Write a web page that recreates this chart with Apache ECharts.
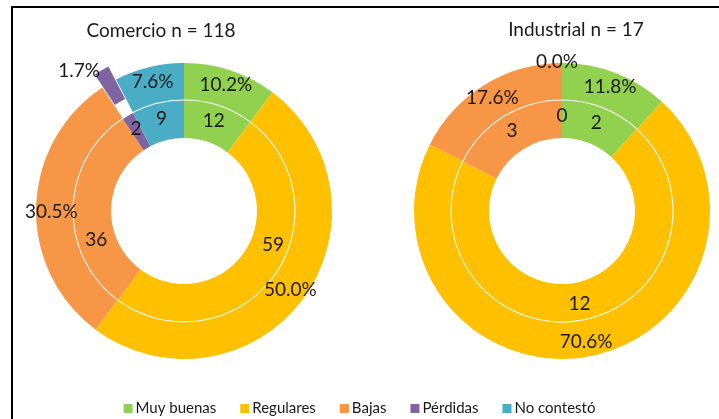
<!DOCTYPE html>
<html>
<head>
<meta charset="utf-8">
<script src="https://cdn.jsdelivr.net/npm/echarts@6/dist/echarts.min.js"></script>
<style>
  html, body { margin: 0; padding: 0; background: #fff; }
  #chart { width: 719px; height: 419px; }
</style>
</head>
<body>
<div id="chart"></div>
<script>
const categories = ['Muy buenas', 'Regulares', 'Bajas', 'Pérdidas', 'No contestó']
const comercioCounts = [12, 59, 36, 2, 9]
const comercioPct = [10.2, 50.0, 30.5, 1.7, 7.6]
const industrialCounts = [2, 12, 3, 0, 0]
const industrialPct = [11.8, 70.6, 17.6, 0.0, 0.0]
const titles = ['Comercio n = 118', 'Industrial n = 17']

const colors = ['#92D050', '#FFC000', '#F79646', '#8064A2', '#4BACC6']
const font = 'Lato, "Open Sans", sans-serif'

// label nudges so the text sits where the original put it
const innerOffsetsLeft = { 'Regulares': [13, -23], 'Bajas': [7, 31] }
const outerOffsetsLeft = { 'Bajas': [0, 5], 'Pérdidas': [-30, -13] }
const outerOffsetsRight = { 'Pérdidas': [-5, -16], 'No contestó': [-5, -16] }

function buildData (values, offsets, explode) {
  return values.map((v, i) => {
    const name = categories[i]
    const item = { name: name, value: v }
    if (offsets && offsets[name]) {
      item.label = { offset: offsets[name] }
      item.select = { label: { offset: offsets[name] } }
    }
    if (explode && name === explode) item.selected = true
    return item
  })
}

function ring (center, radius, data, isPct) {
  return {
    type: 'pie',
    center: center,
    radius: radius,
    startAngle: 90,
    clockwise: true,
    silent: true,
    avoidLabelOverlap: false,
    selectedMode: 'single',
    selectedOffset: 15,
    emphasis: { disabled: true },
    itemStyle: { borderWidth: 0 },
    labelLine: { show: false },
    label: {
      show: true,
      position: 'inside',
      color: '#1a1a1a',
      fontSize: 19,
      fontFamily: font,
      formatter: p => isPct ? p.value.toFixed(1) + '%' : String(p.value)
    },
    data: data
  }
}

const chart = echarts.init(document.getElementById('chart'))
chart.setOption({
  animation: false,
  color: colors,
  title: [
    { text: titles[0], left: 156, top: 16, textAlign: 'center',
      textStyle: { fontSize: 19, fontWeight: 'normal', color: '#1a1a1a', fontFamily: font } },
    { text: titles[1], left: 571, top: 15, textAlign: 'center',
      textStyle: { fontSize: 19, fontWeight: 'normal', color: '#1a1a1a', fontFamily: font } }
  ],
  legend: {
    data: categories,
    top: 396,
    left: 'center',
    icon: 'rect',
    itemWidth: 9,
    itemHeight: 9,
    itemGap: 24,
    selectedMode: false,
    textStyle: { fontSize: 15, color: '#1a1a1a', fontFamily: font, padding: [0, 0, 0, -2] }
  },
  graphic: [{
    type: 'polyline',
    shape: { points: [[12, 419], [12, 7], [719, 7]] },
    style: { stroke: '#000', lineWidth: 2, fill: null }
  }],
  series: [
    ring([184, 211], [73, 110.5], buildData(comercioCounts, innerOffsetsLeft), false),
    ring([184, 211], [111.5, 148], buildData(comercioPct, outerOffsetsLeft, 'Pérdidas'), true),
    ring([562, 211], [73, 110.5], buildData(industrialCounts), false),
    ring([562, 211], [111.5, 148], buildData(industrialPct, outerOffsetsRight), true)
  ]
})
</script>
</body>
</html>
